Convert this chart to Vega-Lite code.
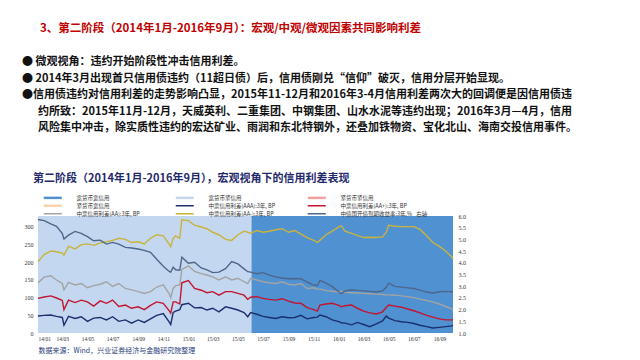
{
  "$schema": "https://vega.github.io/schema/vega-lite/v6.json",
  "width": 415,
  "height": 117,
  "autosize": "none",
  "padding": {"left": 38, "top": 216, "right": 187, "bottom": 27},
  "background": "white",
  "config": {"view": {"stroke": null}, "font": "Noto Sans CJK SC"},
  "title": {
    "text": "⠀⠀3、第二阶段（2014年1月-2016年9月）：宏观/中观/微观因素共同影响利差",
    "subtitle": [
      "● 微观视角：违约开始阶段性冲击信用利差。",
      "● 2014年3月出现首只信用债违约（11超日债）后，信用债刚兑“信仰”破灭，信用分层开始显现。",
      "●信用债违约对信用利差的走势影响凸显，2015年11-12月和2016年3-4月信用利差两次大的回调便是因信用债违",
      "⠀⠀约所致：2015年11月-12月，天威英利、二重集团、中钢集团、山水水泥等违约出现；2016年3月—4月，信用",
      "⠀⠀风险集中冲击，除实质性违约的宏达矿业、雨润和东北特钢外，还叠加铁物资、宝化北山、海南交投信用事件。"
    ],
    "anchor": "start",
    "frame": "group",
    "orient": "top",
    "offset": 40,
    "dx": -16,
    "font": "Noto Sans CJK SC",
    "fontSize": 11.5,
    "fontWeight": "bold",
    "color": "#c00000",
    "subtitleFont": "Noto Sans CJK SC",
    "subtitleFontSize": 11,
    "subtitleFontWeight": "bold",
    "subtitleColor": "#111111",
    "subtitleLineHeight": 16.5,
    "subtitlePadding": 22
  },
  "datasets": {
    "regimes": [
      {"start": "2014-01-01", "end": "2015-06-03", "regime": "宽货币紧信用"},
      {"start": "2015-06-03", "end": "2016-10-04", "regime": "宽货币宽信用"}
    ],
    "series": [
      {"date": "2014-01-01", "AAA": 48, "AAplus": 98, "AA": 142, "AAminus": 202, "CDB": 5.85},
      {"date": "2014-01-16", "AAA": 50, "AAplus": 102, "AA": 158, "AAminus": 222, "CDB": 5.80},
      {"date": "2014-02-01", "AAA": 51, "AAplus": 105, "AA": 162, "AAminus": 232, "CDB": 5.66},
      {"date": "2014-02-15", "AAA": 47, "AAplus": 99, "AA": 150, "AAminus": 230, "CDB": 5.56},
      {"date": "2014-03-01", "AAA": 44, "AAplus": 92, "AA": 140, "AAminus": 226, "CDB": 5.25},
      {"date": "2014-03-05", "AAA": 22, "AAplus": 66, "AA": 122, "AAminus": 220, "CDB": 5.02},
      {"date": "2014-03-16", "AAA": 47, "AAplus": 93, "AA": 143, "AAminus": 245, "CDB": 5.18},
      {"date": "2014-04-01", "AAA": 41, "AAplus": 86, "AA": 136, "AAminus": 238, "CDB": 5.34},
      {"date": "2014-04-16", "AAA": 46, "AAplus": 93, "AA": 140, "AAminus": 250, "CDB": 5.26},
      {"date": "2014-05-01", "AAA": 33, "AAplus": 88, "AA": 128, "AAminus": 252, "CDB": 5.12},
      {"date": "2014-05-16", "AAA": 42, "AAplus": 76, "AA": 134, "AAminus": 248, "CDB": 4.94},
      {"date": "2014-06-01", "AAA": 44, "AAplus": 91, "AA": 138, "AAminus": 255, "CDB": 4.97},
      {"date": "2014-06-16", "AAA": 37, "AAplus": 84, "AA": 145, "AAminus": 258, "CDB": 4.80},
      {"date": "2014-07-01", "AAA": 46, "AAplus": 93, "AA": 132, "AAminus": 262, "CDB": 4.87},
      {"date": "2014-07-16", "AAA": 33, "AAplus": 75, "AA": 140, "AAminus": 268, "CDB": 4.80},
      {"date": "2014-08-01", "AAA": 37, "AAplus": 79, "AA": 126, "AAminus": 265, "CDB": 4.66},
      {"date": "2014-08-16", "AAA": 28, "AAplus": 70, "AA": 122, "AAminus": 256, "CDB": 4.63},
      {"date": "2014-09-01", "AAA": 37, "AAplus": 74, "AA": 117, "AAminus": 258, "CDB": 4.59},
      {"date": "2014-09-16", "AAA": 30, "AAplus": 66, "AA": 112, "AAminus": 252, "CDB": 4.53},
      {"date": "2014-10-01", "AAA": 40, "AAplus": 78, "AA": 117, "AAminus": 268, "CDB": 4.45},
      {"date": "2014-10-16", "AAA": 50, "AAplus": 88, "AA": 130, "AAminus": 278, "CDB": 4.15},
      {"date": "2014-11-01", "AAA": 55, "AAplus": 84, "AA": 136, "AAminus": 275, "CDB": 3.85},
      {"date": "2014-11-16", "AAA": 30, "AAplus": 62, "AA": 110, "AAminus": 250, "CDB": 3.62},
      {"date": "2014-11-19", "AAA": 24, "AAplus": 56, "AA": 100, "AAminus": 244, "CDB": 3.60},
      {"date": "2014-11-25", "AAA": 58, "AAplus": 88, "AA": 126, "AAminus": 268, "CDB": 3.81},
      {"date": "2014-12-01", "AAA": 62, "AAplus": 88, "AA": 134, "AAminus": 275, "CDB": 3.70},
      {"date": "2014-12-11", "AAA": 66, "AAplus": 82, "AA": 136, "AAminus": 268, "CDB": 3.68},
      {"date": "2014-12-16", "AAA": 80, "AAplus": 142, "AA": 180, "AAminus": 320, "CDB": 4.24},
      {"date": "2015-01-01", "AAA": 84, "AAplus": 148, "AA": 190, "AAminus": 318, "CDB": 3.98},
      {"date": "2015-01-16", "AAA": 71, "AAplus": 126, "AA": 174, "AAminus": 305, "CDB": 4.02},
      {"date": "2015-02-01", "AAA": 72, "AAplus": 121, "AA": 168, "AAminus": 300, "CDB": 3.78},
      {"date": "2015-02-15", "AAA": 65, "AAplus": 114, "AA": 164, "AAminus": 295, "CDB": 3.70},
      {"date": "2015-03-01", "AAA": 70, "AAplus": 117, "AA": 159, "AAminus": 285, "CDB": 3.58},
      {"date": "2015-03-16", "AAA": 60, "AAplus": 107, "AA": 150, "AAminus": 278, "CDB": 3.60},
      {"date": "2015-04-01", "AAA": 74, "AAplus": 117, "AA": 159, "AAminus": 265, "CDB": 3.75},
      {"date": "2015-04-16", "AAA": 70, "AAplus": 117, "AA": 150, "AAminus": 262, "CDB": 4.05},
      {"date": "2015-05-01", "AAA": 65, "AAplus": 112, "AA": 155, "AAminus": 278, "CDB": 3.95},
      {"date": "2015-05-16", "AAA": 58, "AAplus": 107, "AA": 145, "AAminus": 288, "CDB": 3.74},
      {"date": "2015-05-25", "AAA": 46, "AAplus": 95, "AA": 140, "AAminus": 285, "CDB": 3.62},
      {"date": "2015-06-01", "AAA": 58, "AAplus": 101, "AA": 155, "AAminus": 282, "CDB": 3.60},
      {"date": "2015-06-16", "AAA": 53, "AAplus": 103, "AA": 150, "AAminus": 290, "CDB": 3.53},
      {"date": "2015-07-01", "AAA": 47, "AAplus": 98, "AA": 145, "AAminus": 285, "CDB": 3.58},
      {"date": "2015-07-16", "AAA": 44, "AAplus": 95, "AA": 142, "AAminus": 288, "CDB": 3.47},
      {"date": "2015-08-01", "AAA": 41, "AAplus": 93, "AA": 140, "AAminus": 292, "CDB": 3.40},
      {"date": "2015-08-16", "AAA": 46, "AAplus": 97, "AA": 145, "AAminus": 295, "CDB": 3.35},
      {"date": "2015-09-01", "AAA": 43, "AAplus": 90, "AA": 138, "AAminus": 285, "CDB": 3.32},
      {"date": "2015-09-16", "AAA": 44, "AAplus": 85, "AA": 136, "AAminus": 290, "CDB": 3.33},
      {"date": "2015-10-01", "AAA": 50, "AAplus": 84, "AA": 140, "AAminus": 280, "CDB": 3.32},
      {"date": "2015-10-16", "AAA": 40, "AAplus": 72, "AA": 126, "AAminus": 270, "CDB": 3.17},
      {"date": "2015-11-01", "AAA": 44, "AAplus": 66, "AA": 128, "AAminus": 262, "CDB": 3.05},
      {"date": "2015-11-10", "AAA": 45, "AAplus": 62, "AA": 124, "AAminus": 256, "CDB": 3.03},
      {"date": "2015-11-16", "AAA": 51, "AAplus": 79, "AA": 124, "AAminus": 262, "CDB": 3.25},
      {"date": "2015-12-01", "AAA": 46, "AAplus": 82, "AA": 120, "AAminus": 278, "CDB": 3.13},
      {"date": "2015-12-16", "AAA": 37, "AAplus": 84, "AA": 118, "AAminus": 288, "CDB": 2.98},
      {"date": "2016-01-01", "AAA": 32, "AAplus": 78, "AA": 116, "AAminus": 300, "CDB": 2.75},
      {"date": "2016-01-07", "AAA": 29, "AAplus": 74, "AA": 118, "AAminus": 303, "CDB": 2.68},
      {"date": "2016-01-16", "AAA": 28, "AAplus": 77, "AA": 115, "AAminus": 288, "CDB": 2.80},
      {"date": "2016-02-01", "AAA": 23, "AAplus": 79, "AA": 114, "AAminus": 282, "CDB": 2.85},
      {"date": "2016-02-15", "AAA": 30, "AAplus": 70, "AA": 113, "AAminus": 276, "CDB": 2.82},
      {"date": "2016-03-01", "AAA": 24, "AAplus": 62, "AA": 112, "AAminus": 270, "CDB": 2.80},
      {"date": "2016-03-16", "AAA": 18, "AAplus": 57, "AA": 111, "AAminus": 271, "CDB": 2.78},
      {"date": "2016-04-01", "AAA": 26, "AAplus": 54, "AA": 110, "AAminus": 270, "CDB": 2.75},
      {"date": "2016-04-16", "AAA": 34, "AAplus": 60, "AA": 109, "AAminus": 272, "CDB": 2.80},
      {"date": "2016-04-25", "AAA": 48, "AAplus": 72, "AA": 108, "AAminus": 285, "CDB": 2.95},
      {"date": "2016-05-01", "AAA": 42, "AAplus": 79, "AA": 108, "AAminus": 305, "CDB": 3.13},
      {"date": "2016-05-16", "AAA": 35, "AAplus": 76, "AA": 107, "AAminus": 302, "CDB": 2.99},
      {"date": "2016-06-01", "AAA": 32, "AAplus": 73, "AA": 105, "AAminus": 301, "CDB": 2.96},
      {"date": "2016-06-16", "AAA": 30, "AAplus": 68, "AA": 103, "AAminus": 301, "CDB": 2.93},
      {"date": "2016-07-01", "AAA": 27, "AAplus": 63, "AA": 100, "AAminus": 301, "CDB": 2.90},
      {"date": "2016-07-16", "AAA": 22, "AAplus": 57, "AA": 96, "AAminus": 293, "CDB": 2.83},
      {"date": "2016-08-01", "AAA": 18, "AAplus": 50, "AA": 92, "AAminus": 275, "CDB": 2.75},
      {"date": "2016-08-16", "AAA": 14, "AAplus": 45, "AA": 88, "AAminus": 256, "CDB": 2.71},
      {"date": "2016-09-01", "AAA": 16, "AAplus": 40, "AA": 82, "AAminus": 245, "CDB": 2.76},
      {"date": "2016-09-16", "AAA": 18, "AAplus": 37, "AA": 75, "AAminus": 232, "CDB": 2.78},
      {"date": "2016-10-01", "AAA": 20, "AAplus": 37, "AA": 68, "AAminus": 215, "CDB": 2.76},
      {"date": "2016-10-04", "AAA": 22, "AAplus": 37, "AA": 65, "AAminus": 208, "CDB": 2.75}
    ]
  },
  "layer": [
    {
      "data": {"name": "regimes"},
      "mark": {"type": "rect"},
      "encoding": {
        "x": {
          "field": "start",
          "type": "temporal",
          "scale": {"type": "utc", "domain": [{"year": 2014, "month": 1, "date": 1, "utc": true}, {"year": 2016, "month": 10, "date": 4, "utc": true}]},
          "axis": {
            "format": "%y/%m",
            "tickCount": {"interval": "month", "step": 2},
            "labelFont": "Liberation Serif",
            "labelFontSize": 5.5,
            "labelColor": "#333333",
            "labelOverlap": false,
            "labelPadding": 3,
            "ticks": false,
            "domain": false,
            "grid": false,
            "title": "数据来源：Wind，兴业证券经济与金融研究院整理",
            "titleAnchor": "start",
            "titleAlign": "left",
            "titleX": 0,
            "titleY": 13,
            "titleFont": "Noto Sans CJK SC",
            "titleFontSize": 7,
            "titleFontWeight": "normal",
            "titleColor": "#1f3d7a"
          }
        },
        "x2": {"field": "end"},
        "color": {
          "field": "regime",
          "type": "nominal",
          "scale": {
            "domain": ["宽货币宽信用", "紧货币宽信用", "AA", "宽货币紧信用", "AAA", "AAminus", "紧货币紧信用", "AAplus", "CDB"],
            "range": ["#5091d2", "#f9d2ae", "#a3a3a3", "#c3d8f0", "#1b2f6e", "#c9b33b", "#f2a0a0", "#c2152f", "#4d6689"]
          },
          "legend": {
            "orient": "none",
            "legendX": -5,
            "legendY": -43,
            "columns": 3,
            "gridAlign": "all",
            "columnPadding": 1,
            "rowPadding": -3,
            "title": "第二阶段（2014年1月-2016年9月），宏观视角下的信用利差表现",
            "titleFont": "Noto Sans CJK SC",
            "titleFontSize": 11,
            "titleFontWeight": "bold",
            "titleColor": "#1f2a6b",
            "titleLimit": 500,
            "titlePadding": 11,
            "symbolType": "stroke",
            "symbolSize": 324,
            "symbolStrokeWidth": 1.5,
            "symbolOffset": 17,
            "labelOffset": 21,
            "labelFont": "Noto Sans CJK SC",
            "labelFontSize": 5.5,
            "labelColor": "#333333",
            "labelLimit": 200,
            "labelExpr": "datum.value == 'AAA' ? '中票信用利差(AAA):3年, BP' : datum.value == 'AAplus' ? '中票信用利差(AA+):3年, BP' : datum.value == 'AA' ? '中票信用利差(AA):3年, BP' : datum.value == 'AAminus' ? '中票信用利差(AA-):3年, BP' : datum.value == 'CDB' ? '中债国开债到期收益率:3年,%⠀右轴' : datum.value",
            "encode": {
              "symbols": {
                "update": {
                  "stroke": {"scale": "color", "field": "value"},
                  "fill": {"value": "transparent"},
                  "opacity": {"value": 1},
                  "strokeWidth": {"signal": "indexof(['宽货币宽信用','宽货币紧信用','紧货币紧信用','紧货币宽信用'], datum.value) >= 0 ? 2.5 : 1.5"}
                }
              }
            }
          }
        }
      }
    },
    {
      "data": {"name": "series"},
      "transform": [{"fold": ["AAminus", "AA", "AAplus", "AAA"], "as": ["series", "value"]}],
      "mark": {"type": "line", "strokeWidth": 1.4},
      "encoding": {
        "x": {"field": "date", "type": "temporal"},
        "y": {
          "field": "value",
          "type": "quantitative",
          "scale": {"domain": [0, 331], "nice": false},
          "axis": {
            "values": [0, 50, 100, 150, 200, 250, 300],
            "labelFont": "Liberation Serif",
            "labelFontSize": 6,
            "labelColor": "#333333",
            "labelPadding": 5,
            "ticks": false,
            "domain": false,
            "grid": false,
            "title": null
          }
        },
        "color": {"field": "series", "type": "nominal"}
      }
    },
    {
      "data": {"name": "series"},
      "mark": {"type": "line", "strokeWidth": 1.4},
      "encoding": {
        "x": {"field": "date", "type": "temporal"},
        "y": {
          "field": "CDB",
          "type": "quantitative",
          "scale": {"domain": [1, 6], "nice": false},
          "axis": {
            "orient": "right",
            "values": [1, 1.5, 2, 2.5, 3, 3.5, 4, 4.5, 5, 5.5, 6],
            "format": ".1f",
            "labelFont": "Liberation Serif",
            "labelFontSize": 6,
            "labelColor": "#333333",
            "labelPadding": 5,
            "ticks": false,
            "domain": false,
            "grid": false,
            "title": null
          }
        },
        "color": {"datum": "CDB"}
      }
    }
  ],
  "resolve": {"scale": {"y": "independent"}}
}
